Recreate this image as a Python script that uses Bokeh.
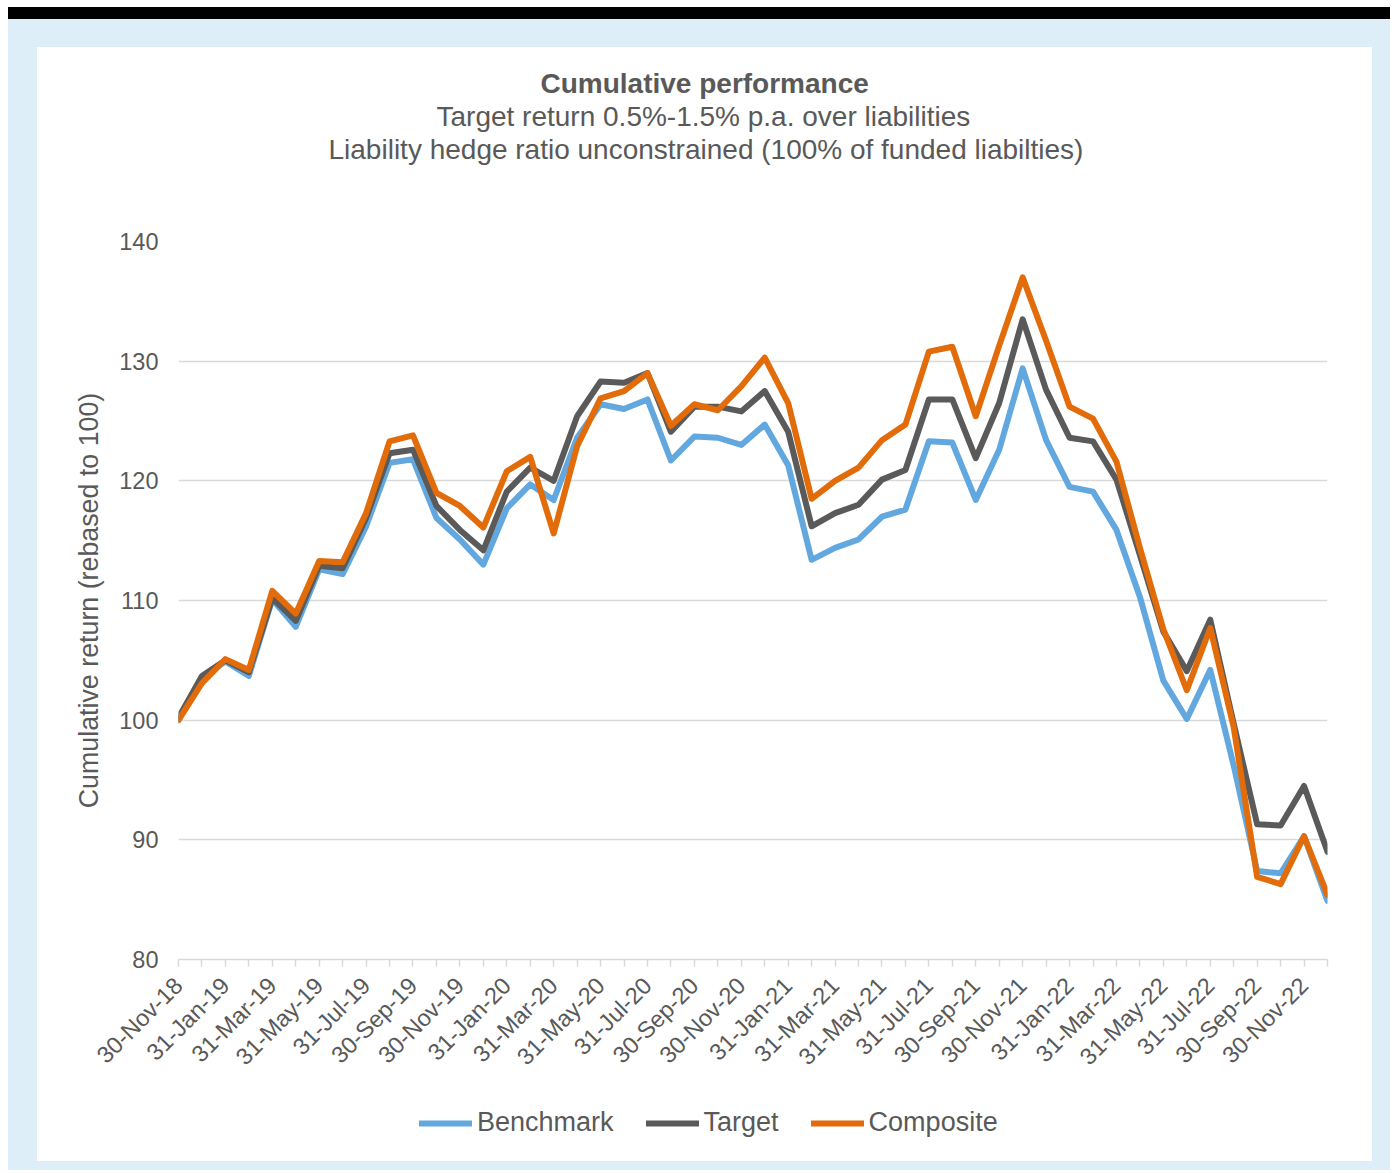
import math
from bokeh.plotting import figure
from bokeh.models import Range1d, FixedTicker, Legend, LegendItem, Title
from bokeh.layouts import column
from bokeh.embed import file_html
from bokeh.resources import INLINE

# ---------------- data ----------------
dates = ["30-Nov-18", "31-Dec-18",
         "31-Jan-19", "28-Feb-19", "31-Mar-19", "30-Apr-19", "31-May-19", "30-Jun-19",
         "31-Jul-19", "31-Aug-19", "30-Sep-19", "31-Oct-19", "30-Nov-19", "31-Dec-19",
         "31-Jan-20", "29-Feb-20", "31-Mar-20", "30-Apr-20", "31-May-20", "30-Jun-20",
         "31-Jul-20", "31-Aug-20", "30-Sep-20", "31-Oct-20", "30-Nov-20", "31-Dec-20",
         "31-Jan-21", "28-Feb-21", "31-Mar-21", "30-Apr-21", "31-May-21", "30-Jun-21",
         "31-Jul-21", "31-Aug-21", "30-Sep-21", "31-Oct-21", "30-Nov-21", "31-Dec-21",
         "31-Jan-22", "28-Feb-22", "31-Mar-22", "30-Apr-22", "31-May-22", "30-Jun-22",
         "31-Jul-22", "31-Aug-22", "30-Sep-22", "31-Oct-22", "30-Nov-22", "31-Dec-22"]

benchmark = [100.0, 103.6, 104.9, 103.7, 110.1, 107.8, 112.6, 112.2, 116.2, 121.5,
             121.8, 116.9, 115.1, 113.0, 117.7, 119.7, 118.4, 123.6, 126.4, 126.0,
             126.8, 121.7, 123.7, 123.6, 123.0, 124.7, 121.3, 113.4, 114.4, 115.1,
             117.0, 117.6, 123.3, 123.2, 118.4, 122.6, 129.4, 123.4, 119.5, 119.1,
             115.9, 110.3, 103.3, 100.1, 104.2, 96.2, 87.4, 87.2, 90.3, 84.9]

target = [100.2, 103.7, 105.0, 104.0, 110.2, 108.3, 112.9, 112.7, 116.9, 122.3,
          122.6, 117.9, 115.9, 114.2, 119.1, 121.1, 120.0, 125.4, 128.3, 128.2,
          129.0, 124.1, 126.2, 126.2, 125.8, 127.5, 124.1, 116.2, 117.3, 118.0,
          120.1, 120.9, 126.8, 126.8, 121.9, 126.5, 133.5, 127.6, 123.6, 123.3,
          120.1, 113.8, 107.4, 104.1, 108.4, 99.7, 91.3, 91.2, 94.5, 89.0]

composite = [100.0, 103.1, 105.1, 104.2, 110.8, 108.9, 113.3, 113.2, 117.3, 123.3,
             123.8, 119.0, 117.9, 116.1, 120.8, 122.0, 115.6, 122.9, 126.9, 127.5,
             129.0, 124.6, 126.4, 125.9, 127.9, 130.3, 126.5, 118.5, 120.0, 121.1,
             123.4, 124.7, 130.8, 131.2, 125.4, 131.3, 137.0, 131.7, 126.2, 125.2,
             121.6, 114.4, 107.6, 102.5, 107.7, 99.4, 86.9, 86.3, 90.3, 85.4]

y_ticks = [80, 90, 100, 110, 120, 130, 140]
series_names = ["Benchmark", "Target", "Composite"]

title_text = "Cumulative performance"
subtitle1 = "Target return 0.5%-1.5% p.a. over liabilities"
subtitle2 = "Liability hedge ratio unconstrained (100% of funded liabilties)"
y_label = "Cumulative return (rebased to 100)"

# ---------------- style ----------------
FONT = "Liberation Sans"
TXT = "#595959"
GRID = "#D9D9D9"
COLORS = ["#62A8DE", "#5A5A5A", "#E26B0A"]
LINE_W = 6

x = list(range(len(dates)))
series = [benchmark, target, composite]

p = figure(width=1335, height=1054, output_backend="svg", toolbar_location=None,
           title=None,
           x_range=Range1d(0, len(dates) - 1), y_range=Range1d(80, 140),
           min_border_left=141, min_border_right=45,
           min_border_top=194, min_border_bottom=142)
p.background_fill_color = None
p.border_fill_color = None
p.outline_line_color = None

# titles, stacked outward from the plot frame: spacer, subtitle 2, subtitle 1, title
p.add_layout(Title(text=" ", text_font=FONT, text_font_size="28px", standoff=44), "above")
for txt, style, off in [(subtitle2, "normal", 150),
                        (subtitle1, "normal", 258),
                        (title_text, "bold", 362)]:
    p.add_layout(Title(text=txt, align="left", offset=off, text_font=FONT,
                       text_font_size="28px", text_font_style=style,
                       text_color=TXT, standoff=0), "above")

for vals, col in zip(series, COLORS):
    p.line(x, vals, line_color=col, line_width=LINE_W,
           line_join="round", line_cap="round")

# x axis
xa = p.xaxis[0]
xa.ticker = FixedTicker(ticks=x)
xa.major_label_overrides = {i: (d if i % 2 == 0 else "") for i, d in enumerate(dates)}
xa.major_label_orientation = math.pi / 4
xa.major_label_text_font = FONT
xa.major_label_text_font_size = "23.5px"
xa.major_label_text_color = TXT
xa.axis_line_color = GRID
xa.axis_line_width = 1.5
xa.major_tick_line_color = GRID
xa.major_tick_line_width = 1.5
xa.major_tick_in = 0
xa.major_tick_out = 7
xa.minor_tick_line_color = None
xa.major_label_standoff = 15

# y axis
ya = p.yaxis[0]
ya.ticker = FixedTicker(ticks=y_ticks)
ya.axis_line_color = None
ya.major_tick_line_color = None
ya.minor_tick_line_color = None
ya.major_tick_out = 0
ya.major_tick_in = 0
ya.major_label_standoff = 20
ya.major_label_text_font = FONT
ya.major_label_text_font_size = "23.5px"
ya.major_label_text_color = TXT
ya.axis_label = y_label
ya.axis_label_text_font = FONT
ya.axis_label_text_font_size = "26.8px"
ya.axis_label_text_font_style = "normal"
ya.axis_label_text_color = TXT
ya.axis_label_standoff = 12

p.xgrid.visible = False
p.ygrid.ticker = FixedTicker(ticks=y_ticks)
p.ygrid.grid_line_color = GRID
p.ygrid.grid_line_width = 1.5

# ---------------- legend strip ----------------
# same series drawn into a strip whose y range excludes them, so only the legend shows
lg = figure(width=1335, height=60, output_backend="svg", toolbar_location=None,
            title=None, x_range=Range1d(0, len(dates) - 1), y_range=Range1d(0, 1),
            min_border=0, x_axis_location=None, y_axis_location=None)
lg.grid.visible = False
lg.outline_line_color = None
lg.background_fill_color = None
lg.border_fill_color = None
leg_renderers = [lg.line(x, vals, line_color=col, line_width=LINE_W, line_cap="round")
                 for vals, col in zip(series, COLORS)]
legend = Legend(items=[LegendItem(label=n, renderers=[r])
                       for n, r in zip(series_names, leg_renderers)],
                orientation="horizontal", location=(241, 23),
                padding=0, margin=0, spacing=32, glyph_width=53, glyph_height=26,
                label_standoff=5, label_text_font=FONT, label_text_font_size="27px",
                label_text_color=TXT, border_line_color=None, background_fill_alpha=0)
lg.add_layout(legend)

panel = column(p, lg, spacing=0, styles={"background-color": "#FFFFFF"})
layout = column(panel, margin=(7, 0, 0, 8),
                styles={"background-color": "#DEEEF8",
                        "border-top": "12px solid #000000",
                        "padding": "28px 18px 9px 29px"})

open("out.html", "w").write(file_html(layout, INLINE))
